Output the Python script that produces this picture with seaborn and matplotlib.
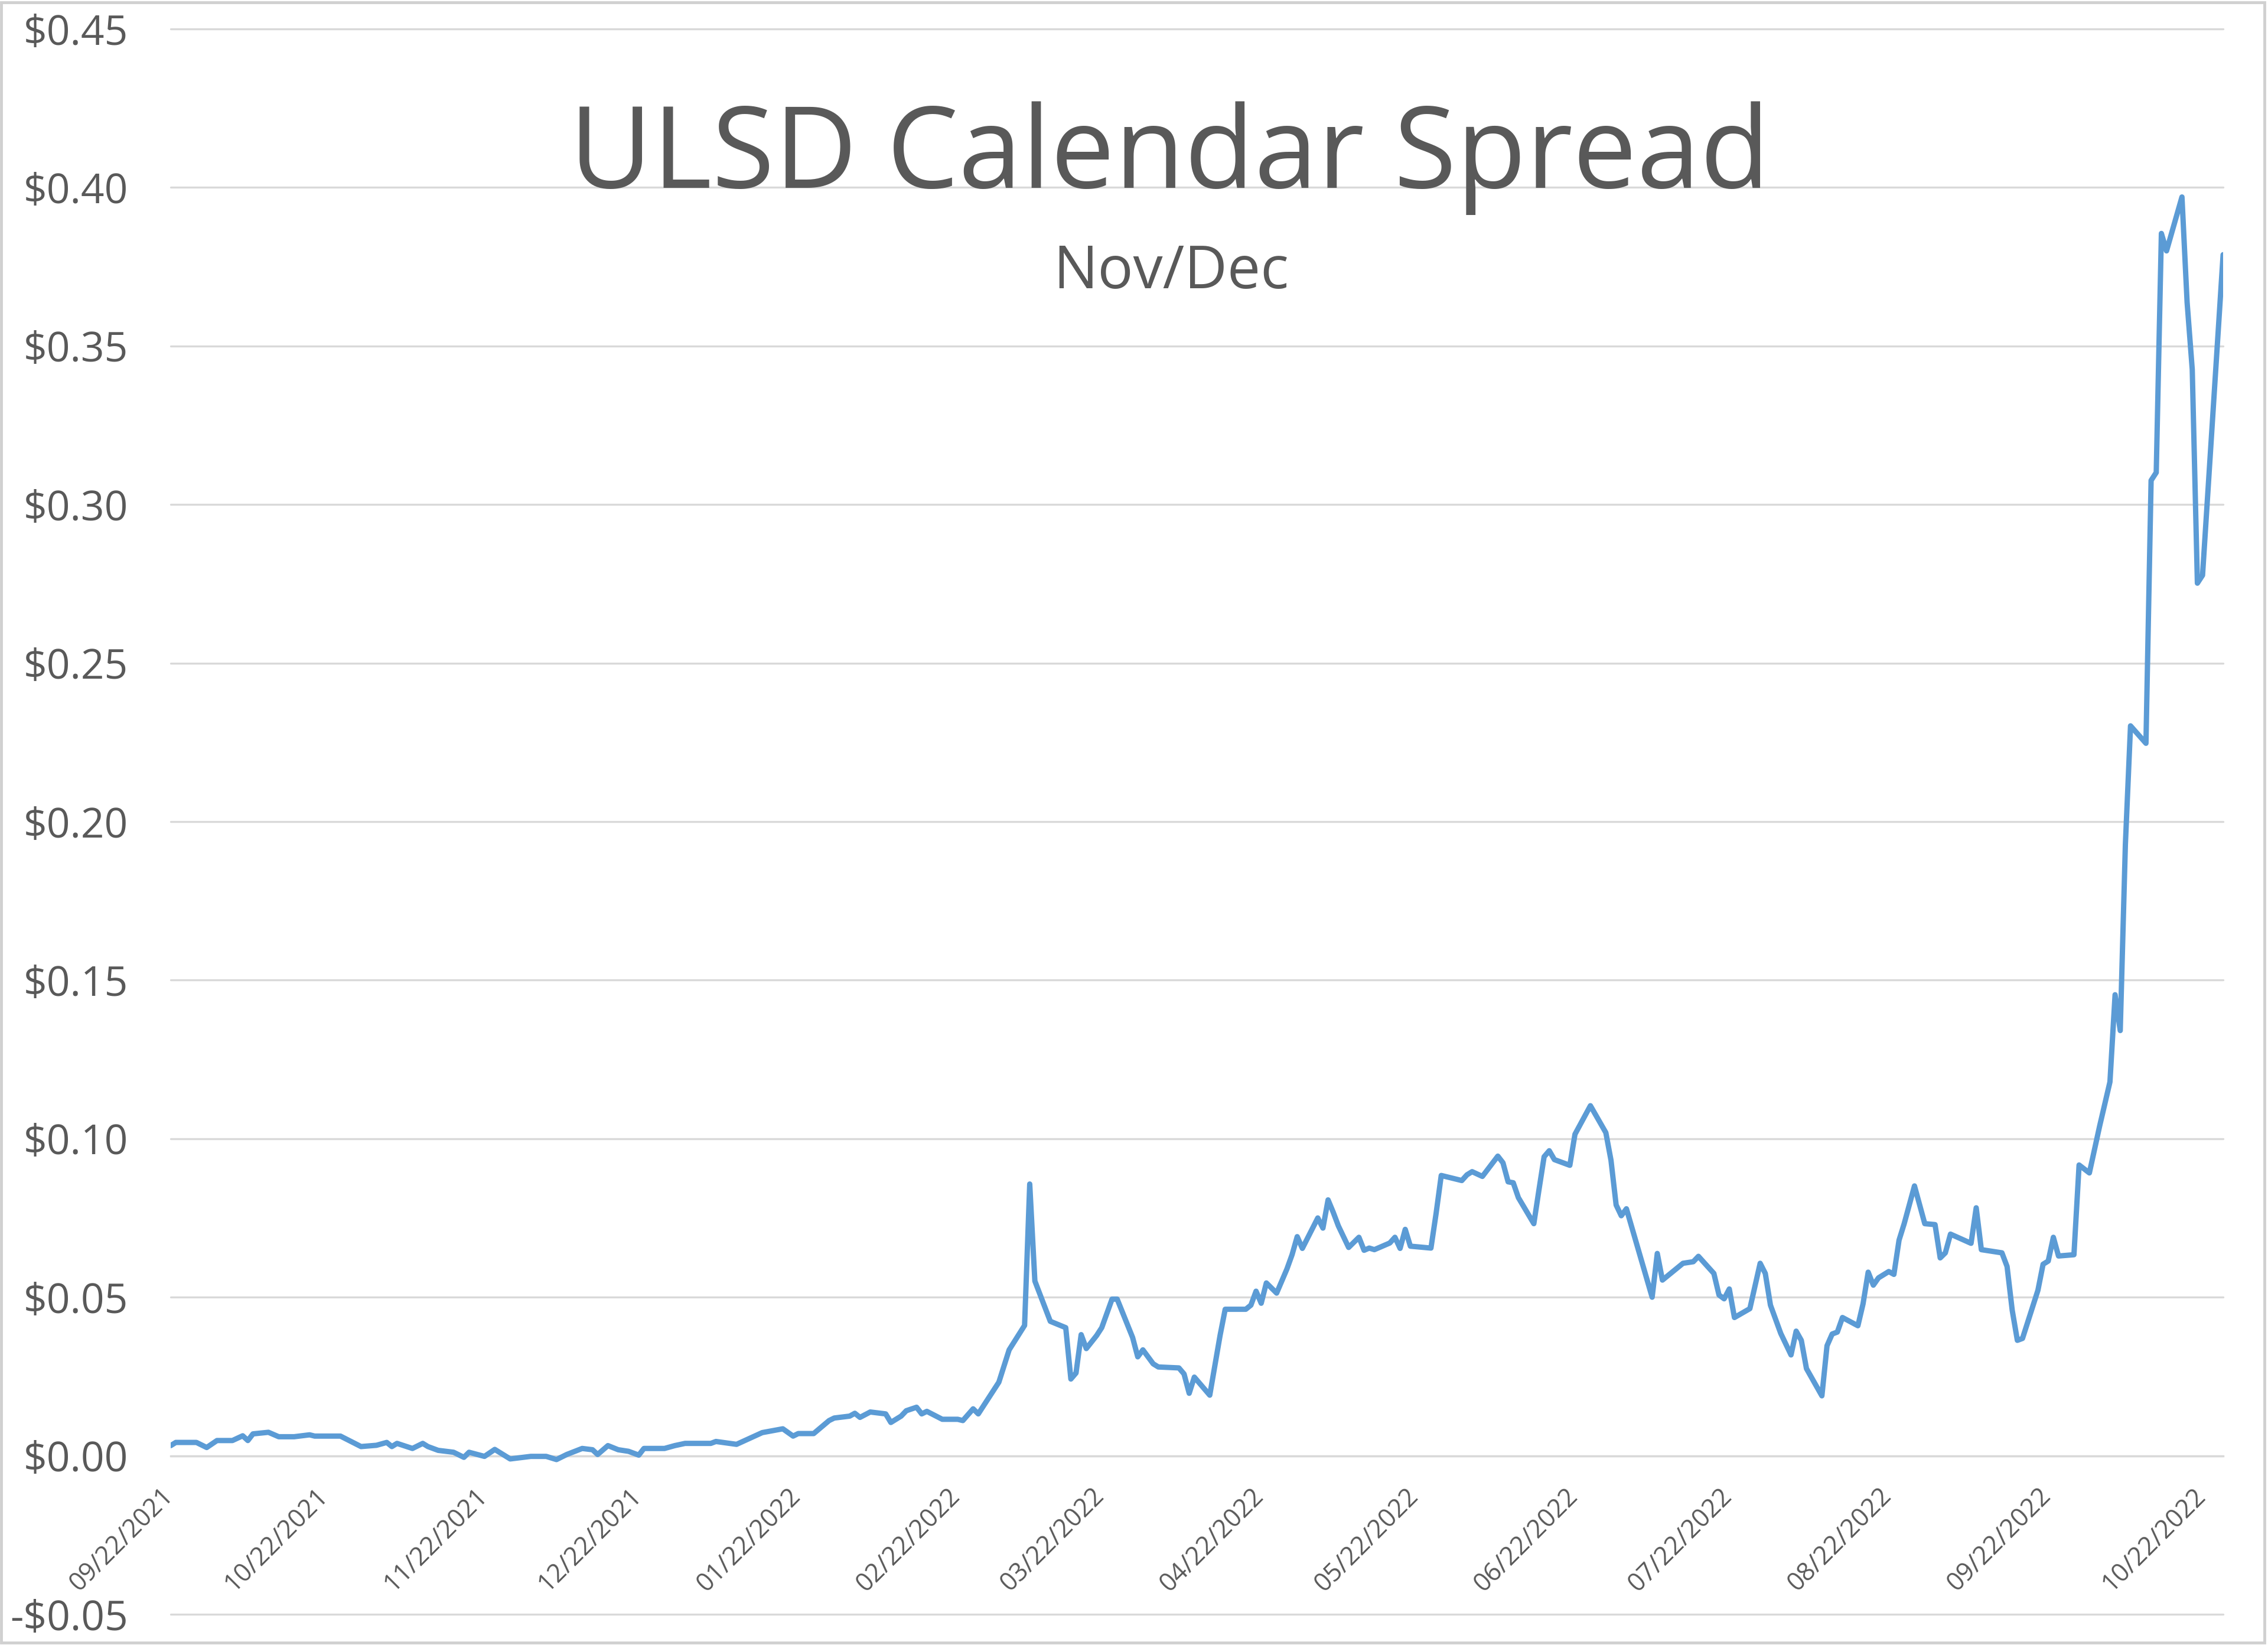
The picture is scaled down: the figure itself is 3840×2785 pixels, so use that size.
import numpy as np
import pandas as pd
import matplotlib
matplotlib.use("Agg")
import matplotlib.pyplot as plt
import matplotlib.transforms as mtransforms
from matplotlib.patches import Rectangle
import seaborn as sns

# ---------------- data ----------------
start_date = "2021-09-22"

# day offsets from start_date and Nov/Dec spread ($/gal)
days_fall21 = [0, 1, 5, 7, 9, 12, 14, 15, 16, 19, 21, 24, 27, 28, 33, 37, 40, 42, 43, 44,
               47, 49, 50, 52, 55, 57, 58, 61, 63, 66, 70, 73, 75, 77, 80, 82, 83, 85, 87, 89,
               91, 92, 96, 98, 100, 105, 106, 110, 115, 119, 121]
spread_fall21 = [0.0032, 0.0042, 0.0042, 0.0026, 0.0048, 0.0048, 0.0063, 0.0048, 0.0069, 0.0074,
                 0.0060, 0.0060, 0.0066, 0.0062, 0.0062, 0.0029, 0.0033, 0.0042, 0.0029, 0.0039,
                 0.0023, 0.0039, 0.0029, 0.0017, 0.0011, -0.0005, 0.0011, -0.0002, 0.0020, -0.0010,
                 -0.0002, -0.0002, -0.0012, 0.0004, 0.0023, 0.0019, 0.0004, 0.0032, 0.0019, 0.0014,
                 0.0002, 0.0023, 0.0023, 0.0032, 0.0039, 0.0039, 0.0045, 0.0036, 0.0073, 0.0085,
                 0.0062]

days_winter22 = [122, 125, 128, 129, 132, 133, 134, 136, 139, 140, 142, 143, 145, 146, 147, 150,
                 153, 154, 156, 157, 159, 161, 163, 166, 167, 168, 171, 174, 175, 176, 177, 178,
                 180, 181, 183, 184, 187, 188, 189, 191, 192, 196, 197, 198, 199, 202, 204, 205,
                 209, 210, 211, 212, 213, 215, 217, 218, 219]
spread_winter22 = [0.0070, 0.0070, 0.0111, 0.0119, 0.0125, 0.0134, 0.0121, 0.0138, 0.0132, 0.0105,
                   0.0125, 0.0142, 0.0153, 0.0132, 0.0140, 0.0115, 0.0115, 0.0111, 0.0148, 0.0132,
                   0.0182, 0.0232, 0.0334, 0.0411, 0.0857, 0.0551, 0.0424, 0.0404, 0.0242, 0.0261,
                   0.0382, 0.0338, 0.0379, 0.0404, 0.0494, 0.0494, 0.0373, 0.0312, 0.0334, 0.0290,
                   0.0280, 0.0277, 0.0258, 0.0197, 0.0248, 0.0191, 0.0379, 0.0462, 0.0462, 0.0475,
                   0.0519, 0.0481, 0.0545, 0.0513, 0.0589, 0.0634, 0.0691]

days_summer22 = [220, 223, 224, 225, 226, 227, 229, 231, 232, 233, 234, 237, 238, 239, 240, 241,
                 245, 246, 247, 251, 252, 253, 255, 258, 259, 260, 261, 262, 265, 266, 267, 268,
                 269, 272, 273, 276, 279, 280, 281, 282, 283, 288, 289, 290, 294, 296, 297, 300,
                 301, 302, 303, 304, 307, 309, 310, 311, 313, 315, 316, 317]
spread_summer22 = [0.0654, 0.0750, 0.0718, 0.0807, 0.0768, 0.0725, 0.0657, 0.0689, 0.0648, 0.0655,
                   0.0650, 0.0671, 0.0689, 0.0654, 0.0714, 0.0661, 0.0655, 0.0764, 0.0884, 0.0868,
                   0.0886, 0.0896, 0.0881, 0.0945, 0.0924, 0.0864, 0.0861, 0.0814, 0.0732, 0.0839,
                   0.0943, 0.0962, 0.0934, 0.0916, 0.1014, 0.1104, 0.1019, 0.0932, 0.0791, 0.0757,
                   0.0779, 0.0500, 0.0638, 0.0554, 0.0607, 0.0612, 0.0629, 0.0575, 0.0507, 0.0495,
                   0.0526, 0.0436, 0.0464, 0.0607, 0.0575, 0.0475, 0.0386, 0.0318, 0.0393, 0.0364]

days_late22 = [318, 321, 322, 323, 324, 325, 328, 329, 330, 331, 332, 334, 335, 336, 337, 339,
               341, 343, 344, 345, 346, 350, 351, 352, 356, 357, 358, 359, 360, 363, 364, 365,
               366, 367, 370]
spread_late22 = [0.0275, 0.0189, 0.0347, 0.0384, 0.0390, 0.0436, 0.0410, 0.0479, 0.0579, 0.0538,
                 0.0561, 0.0581, 0.0572, 0.0680, 0.0732, 0.0851, 0.0732, 0.0729, 0.0624, 0.0640,
                 0.0699, 0.0670, 0.0782, 0.0650, 0.0640, 0.0597, 0.0459, 0.0364, 0.0370, 0.0522,
                 0.0604, 0.0614, 0.0689, 0.0630, 0.0634]

days_surge22 = [371, 373, 375, 377, 378, 379, 380, 381, 384, 385, 386, 387, 388, 391, 392, 393,
                394, 395, 399]
spread_surge22 = [0.0917, 0.0892, 0.1040, 0.1179, 0.1454, 0.1341, 0.1928, 0.2302, 0.2247, 0.3076,
                  0.3101, 0.3855, 0.3800, 0.3970, 0.3638, 0.3426, 0.2752, 0.2777, 0.3788]

tick_labels = ["09/22/2021", "10/22/2021", "11/22/2021", "12/22/2021", "01/22/2022",
               "02/22/2022", "03/22/2022", "04/22/2022", "05/22/2022", "06/22/2022",
               "07/22/2022", "08/22/2022", "09/22/2022", "10/22/2022"]
ytick_values = [-0.05, 0.00, 0.05, 0.10, 0.15, 0.20, 0.25, 0.30, 0.35, 0.40, 0.45]

title_text = "ULSD Calendar Spread"
subtitle_text = "Nov/Dec"

# ---------------- build frame ----------------
days = days_fall21 + days_winter22 + days_summer22 + days_late22 + days_surge22
spread = spread_fall21 + spread_winter22 + spread_summer22 + spread_late22 + spread_surge22
t0 = pd.Timestamp(start_date)
df = pd.DataFrame({"date": t0 + pd.to_timedelta(days, unit="D"), "spread": spread})

# ---------------- style ----------------
sns.set_theme(style="white")
plt.rcParams["font.family"] = ["Open Sans", "DejaVu Sans"]
TXT = "#595959"
GRID = "#D9D9D9"

W, H, DPI = 3840, 2785, 100
fig = plt.figure(figsize=(W / DPI, H / DPI), dpi=DPI)
fig.patch.set_facecolor("white")

left, right = 289 / W, 3764 / W
bottom, top = 1 - 2733 / H, 1 - 49 / H
ax = fig.add_axes([left, bottom, right - left, top - bottom])
ax.set_facecolor("white")

sns.lineplot(data=df, x="date", y="spread", ax=ax, color="#5B9BD5",
             linewidth=6.5, solid_joinstyle="round", solid_capstyle="round", zorder=3)

ax.set_xlim(t0, t0 + pd.Timedelta(days=max(days)))
ax.set_ylim(-0.05, 0.45)

# y axis
ax.set_yticks(ytick_values)
ax.set_yticklabels([f"${v:.2f}" if v >= 0 else f"-${-v:.2f}" for v in ytick_values])
ax.yaxis.grid(True, color=GRID, linewidth=2.4)
for gl in ax.get_ygridlines():
    gl.set_clip_on(False)
ax.xaxis.grid(False)
ax.set_axisbelow(True)
ax.tick_params(axis="y", length=0, pad=52, labelsize=50, labelcolor=TXT)

# x axis crossing at zero
for s in ["top", "right", "left"]:
    ax.spines[s].set_visible(False)
ax.spines["bottom"].set_position(("data", 0))
ax.spines["bottom"].set_color(GRID)
ax.spines["bottom"].set_linewidth(2.4)
ax.spines["bottom"].set_zorder(1)

tick_pos = pd.to_datetime(tick_labels, format="%m/%d/%Y")
ax.set_xticks(tick_pos)
ax.set_xticklabels(tick_labels, rotation=45, ha="right", va="top")
ax.tick_params(axis="x", length=14, width=2, color=GRID, pad=19,
               labelsize=31, labelcolor=TXT)
offset = mtransforms.ScaledTranslation(14 / DPI, 0, fig.dpi_scale_trans)
for lab in ax.get_xticklabels():
    lab.set_transform(lab.get_transform() + offset)

ax.set_xlabel("")
ax.set_ylabel("")

# titles
fig.text(1980 / W, 1 - 318 / H, title_text, ha="center", va="baseline",
         fontsize=139, color=TXT, zorder=5)
fig.text(1983 / W, 1 - 488 / H, subtitle_text, ha="center", va="baseline",
         fontsize=72, color=TXT, zorder=5)

# chart border
fig.patches.append(Rectangle((2 / W, 4 / H), 3832 / W, 2777 / H, transform=fig.transFigure,
                             fill=False, edgecolor="#D0D0D0", linewidth=3.5, zorder=10))

fig.savefig("out.png", dpi=DPI, facecolor="white")
